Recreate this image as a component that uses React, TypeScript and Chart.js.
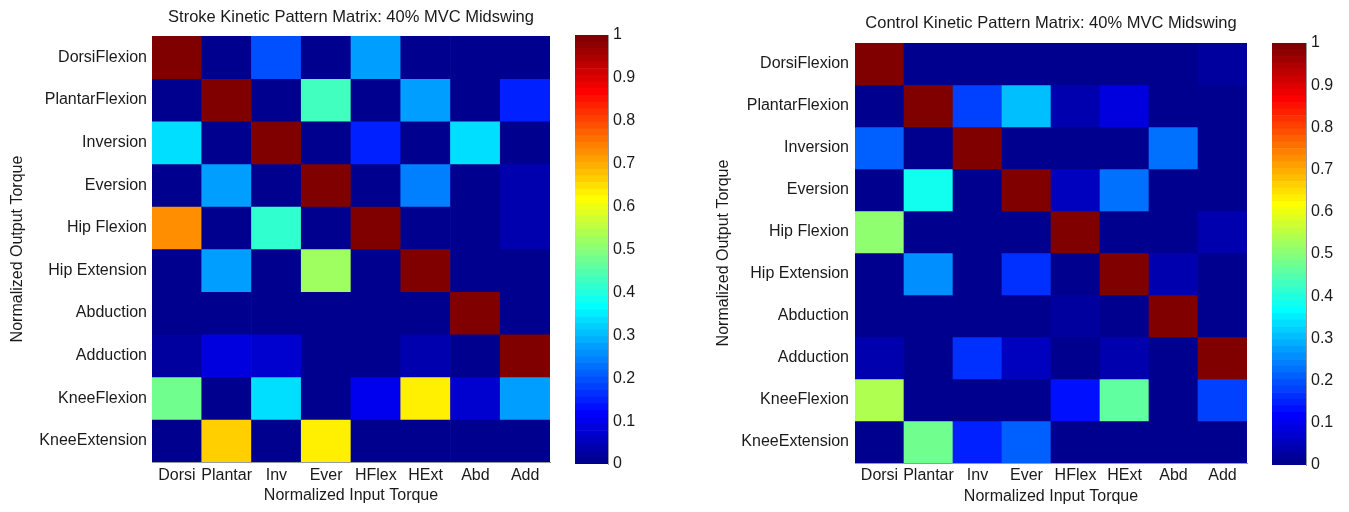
import React, { useEffect, useRef } from 'react';
import { Chart, registerables } from 'chart.js';

Chart.register(...registerables);

// ---------- DATA ----------
const inputLabels = ['Dorsi', 'Plantar', 'Inv', 'Ever', 'HFlex', 'HExt', 'Abd', 'Add'];
const outputLabels = [
  'DorsiFlexion', 'PlantarFlexion', 'Inversion', 'Eversion', 'Hip Flexion',
  'Hip Extension', 'Abduction', 'Adduction', 'KneeFlexion', 'KneeExtension',
];

const strokeValues = [
  [1, 0, 0.2, 0, 0.27, 0, 0, 0],
  [0, 1, 0, 0.43, 0, 0.28, 0, 0.15],
  [0.33, 0, 1, 0, 0.15, 0, 0.33, 0.01],
  [0, 0.28, 0, 1, 0, 0.24, 0, 0.04],
  [0.72, 0, 0.41, 0, 1, 0, 0.01, 0.035],
  [0, 0.28, 0, 0.53, 0, 1, 0, 0],
  [0, 0, 0, 0, 0, 0, 1, 0],
  [0.02, 0.08, 0.07, 0, 0.01, 0.04, 0.01, 1],
  [0.48, 0, 0.33, 0, 0.1, 0.63, 0.07, 0.27],
  [0, 0.66, 0, 0.63, 0, 0, 0, 0],
];

const controlValues = [
  [1, 0, 0, 0, 0, 0, 0, 0.025],
  [0, 1, 0.18, 0.3, 0.035, 0.08, 0, 0],
  [0.21, 0, 1, 0, 0, 0, 0.22, 0],
  [0, 0.375, 0, 1, 0.05, 0.22, 0, 0],
  [0.5, 0, 0, 0, 1, 0, 0, 0.04],
  [0, 0.25, 0, 0.165, 0, 1, 0.035, 0],
  [0, 0, 0, 0, 0.025, 0, 1, 0],
  [0.035, 0, 0.17, 0.05, 0, 0.045, 0, 1],
  [0.54, 0, 0, 0, 0.125, 0.46, 0, 0.185],
  [0, 0.47, 0.145, 0.21, 0, 0, 0, 0],
];

const colorbarTicks = [0, 0.1, 0.2, 0.3, 0.4, 0.5, 0.6, 0.7, 0.8, 0.9, 1];
const colorbarTickLabels = ['0', '0.1', '0.2', '0.3', '0.4', '0.5', '0.6', '0.7', '0.8', '0.9', '1'];
const colorLevels = Array.from({ length: 64 }, (_, k) => k);

const strokeTitle = 'Stroke Kinetic Pattern Matrix: 40% MVC Midswing';
const controlTitle = 'Control Kinetic Pattern Matrix: 40% MVC Midswing';
const xTitle = 'Normalized Input Torque';
const yTitle = 'Normalized Output Torque';

// ---------- STYLE ----------
const FONT = '"Liberation Sans", Arial, Helvetica, sans-serif';
const TEXT = '#1a1a1a';
const LABEL_SIZE = 16;
const TITLE_SIZE = 16.5;

function jet(v: number): string {
  const k = Math.min(63, Math.max(0, Math.floor(v * 64)));
  const t = (k + 1) / 64;
  const c = (x: number) => Math.round(255 * Math.min(1, Math.max(0, x)));
  return `rgb(${c(1.5 - Math.abs(4 * t - 3))},${c(1.5 - Math.abs(4 * t - 2))},${c(1.5 - Math.abs(4 * t - 1))})`;
}

type Geom = {
  padRight: number;
  titleTop: number;
  titleBottom: number;
  yWidth: number;
  yTickPad: number;
  yTitlePad: number;
  xHeight: number;
  xTickPad: number;
  xTitlePad: number;
};

function heatmapConfig(values: number[][], title: string, g: Geom): any {
  return {
    type: 'bar',
    data: {
      labels: inputLabels,
      datasets: outputLabels.map((name, r) => ({
        label: name,
        data: inputLabels.map(() => [r, r + 1]),
        backgroundColor: values[r].map(jet),
        borderWidth: 0,
        barPercentage: 1,
        categoryPercentage: 1,
        grouped: false,
      })),
    },
    options: {
      animation: false,
      responsive: false,
      devicePixelRatio: 1,
      layout: { padding: { left: 0, right: g.padRight, top: 0, bottom: 0 } },
      plugins: {
        legend: { display: false },
        tooltip: { enabled: false },
        title: {
          display: true,
          fullSize: false,
          text: title,
          color: TEXT,
          font: { family: FONT, size: TITLE_SIZE, weight: 'normal', lineHeight: 1.2 },
          padding: { top: g.titleTop, bottom: g.titleBottom },
        },
      },
      scales: {
        x: {
          type: 'category',
          offset: true,
          grid: { display: false, drawTicks: false },
          border: { display: true, color: '#9a9a9a' },
          ticks: {
            color: TEXT,
            font: { family: FONT, size: LABEL_SIZE, lineHeight: 1.2 },
            padding: g.xTickPad,
            autoSkip: false,
            maxRotation: 0,
          },
          title: {
            display: true,
            text: xTitle,
            color: TEXT,
            font: { family: FONT, size: LABEL_SIZE, lineHeight: 1.2 },
            padding: { top: 0, bottom: g.xTitlePad },
          },
          afterFit: (s: any) => { s.height = g.xHeight; },
        },
        y: {
          type: 'linear',
          min: 0,
          max: 10,
          reverse: true,
          grid: { display: false, drawTicks: false },
          border: { display: true, color: '#9a9a9a' },
          afterBuildTicks: (s: any) => {
            s.ticks = outputLabels.map((_, i) => ({ value: i + 0.5 }));
          },
          ticks: {
            color: TEXT,
            font: { family: FONT, size: LABEL_SIZE, lineHeight: 1.2 },
            padding: g.yTickPad,
            autoSkip: false,
            callback: (_v: any, i: number) => outputLabels[i],
          },
          title: {
            display: true,
            text: yTitle,
            color: TEXT,
            font: { family: FONT, size: LABEL_SIZE, lineHeight: 1.2 },
            padding: { top: g.yTitlePad, bottom: 0 },
          },
          afterFit: (s: any) => { s.width = g.yWidth; },
        },
      },
    },
  };
}

function colorbarConfig(pad: { left: number; top: number; bottom: number }, axisWidth: number): any {
  return {
    type: 'bar',
    data: {
      labels: [''],
      datasets: colorLevels.map((k) => ({
        data: [[k / 64, (k + 1) / 64]],
        backgroundColor: jet(k / 64),
        borderWidth: 0,
        barPercentage: 1,
        categoryPercentage: 1,
        grouped: false,
      })),
    },
    options: {
      animation: false,
      responsive: false,
      devicePixelRatio: 1,
      layout: { padding: { left: pad.left, right: 0, top: pad.top, bottom: pad.bottom } },
      plugins: { legend: { display: false }, tooltip: { enabled: false }, title: { display: false } },
      scales: {
        x: { display: false, offset: true },
        y: {
          position: 'right',
          min: 0,
          max: 1,
          grid: { display: false, drawTicks: false },
          border: { display: true, color: '#9a9a9a' },
          afterBuildTicks: (s: any) => {
            s.ticks = colorbarTicks.map((v) => ({ value: v }));
          },
          ticks: {
            color: TEXT,
            font: { family: FONT, size: LABEL_SIZE, lineHeight: 1.2 },
            padding: 5,
            callback: (_v: any, i: number) => colorbarTickLabels[i],
          },
          afterFit: (s: any) => { s.width = axisWidth; },
        },
      },
    },
  };
}

function ChartCanvas(props: { config: any; left: number; top: number; width: number; height: number }) {
  const ref = useRef<HTMLCanvasElement | null>(null);
  useEffect(() => {
    const chart = new Chart(ref.current as HTMLCanvasElement, props.config);
    return () => chart.destroy();
  }, []);
  return (
    <canvas
      ref={ref}
      width={props.width}
      height={props.height}
      style={{ position: 'absolute', left: props.left, top: props.top, width: props.width, height: props.height }}
    />
  );
}

export default function App() {
  const strokeCfg = heatmapConfig(strokeValues, strokeTitle, {
    padRight: 10, titleTop: 7.2, titleBottom: 9.0,
    yWidth: 152, yTickPad: 5, yTitlePad: 8.4,
    xHeight: 50, xTickPad: 4.4, xTitlePad: 6.4,
  });
  const controlCfg = heatmapConfig(controlValues, controlTitle, {
    padRight: 13, titleTop: 13.6, titleBottom: 9.6,
    yWidth: 165, yTickPad: 6, yTitlePad: 24.4,
    xHeight: 49, xTickPad: 3.4, xTitlePad: 5.4,
  });
  const cb1 = colorbarConfig({ left: 15, top: 35, bottom: 48 }, 42);
  const cb2 = colorbarConfig({ left: 12, top: 43, bottom: 47 }, 43);
  return (
    <div style={{ position: 'absolute', left: 0, top: 0, width: 1349, height: 512, background: '#fff', overflow: 'hidden' }}>
      <ChartCanvas config={strokeCfg} left={0} top={0} width={560} height={512} />
      <ChartCanvas config={cb1} left={560} top={0} width={90} height={512} />
      <ChartCanvas config={controlCfg} left={690} top={0} width={570} height={512} />
      <ChartCanvas config={cb2} left={1260} top={0} width={89} height={512} />
    </div>
  );
}
